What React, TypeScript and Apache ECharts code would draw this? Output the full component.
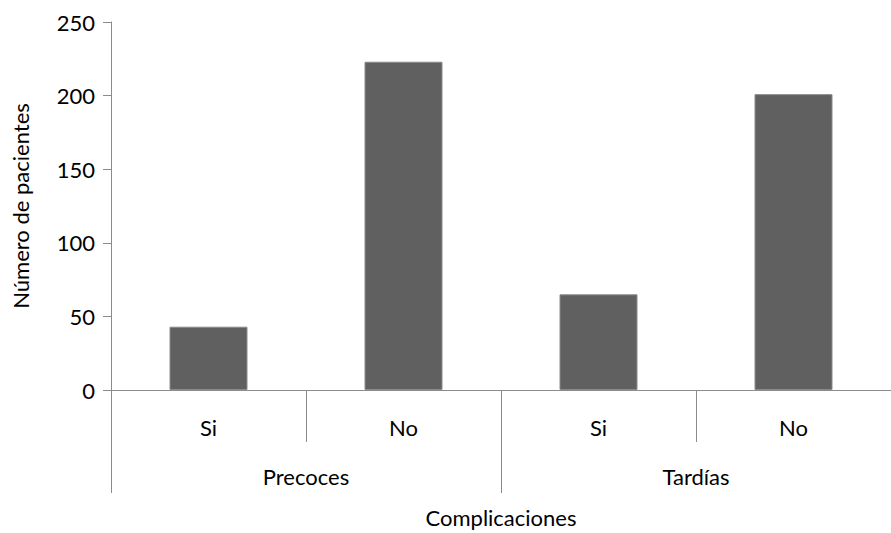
import React, { useEffect, useRef } from "react";
import * as echarts from "echarts";

const subCategories = ["Si", "No", "Si", "No"];
const groupCategories = ["Precoces", "Tardías"];
const patientCounts = [43, 223, 65, 201];
const yTicks = { min: 0, max: 250, interval: 50 };
const xTitle = "Complicaciones";
const yTitle = "Número de pacientes";

const FONT = "Lato";
const FS = 22;
const AXIS_COLOR = "#8c8c8c";

export default function App() {
  const ref = useRef<HTMLDivElement>(null);
  useEffect(() => {
    if (!ref.current) return;
    const chart = echarts.init(ref.current, null, { renderer: "svg" });
    chart.setOption({
      animation: false,
      backgroundColor: "#ffffff",
      textStyle: { fontFamily: FONT },
      grid: { left: 111, top: 22, width: 792, height: 373, containLabel: false },
      xAxis: [
        {
          type: "category",
          data: subCategories,
          position: "bottom",
          axisLine: { show: true, lineStyle: { color: AXIS_COLOR, width: 1 } },
          axisTick: { show: true, interval: 0, length: 52, lineStyle: { color: AXIS_COLOR } },
          axisLabel: { interval: 0, margin: 26, color: "#000", fontSize: FS, fontFamily: FONT },
          splitLine: { show: false },
          name: xTitle,
          nameLocation: "middle",
          nameGap: 116,
          nameTextStyle: { color: "#000", fontSize: FS, fontFamily: FONT },
        },
        {
          type: "category",
          data: groupCategories,
          position: "bottom",
          axisLine: { show: false },
          axisTick: { show: true, interval: 0, length: 103, lineStyle: { color: AXIS_COLOR } },
          axisLabel: { interval: 0, margin: 75, color: "#000", fontSize: FS, fontFamily: FONT },
          splitLine: { show: false },
        },
      ],
      yAxis: {
        type: "value",
        min: yTicks.min,
        max: yTicks.max,
        interval: yTicks.interval,
        axisLine: { show: true, lineStyle: { color: AXIS_COLOR, width: 1 } },
        axisTick: { show: true, length: 8, lineStyle: { color: AXIS_COLOR } },
        axisLabel: { margin: 16, color: "#000", fontSize: FS, fontFamily: FONT },
        splitLine: { show: false },
        name: yTitle,
        nameLocation: "middle",
        nameGap: 80,
        nameRotate: 90,
        nameTextStyle: { color: "#000", fontSize: FS, fontFamily: FONT },
      },
      series: [
        {
          type: "bar",
          xAxisIndex: 0,
          data: patientCounts,
          barWidth: "40%",
          itemStyle: { color: "#606060", borderColor: "#8a8a8a", borderWidth: 1 },
        },
      ],
    });
    return () => chart.dispose();
  }, []);
  return (
    <div
      ref={ref}
      style={{ position: "fixed", left: 0, top: 0, width: 891, height: 533 }}
    />
  );
}
